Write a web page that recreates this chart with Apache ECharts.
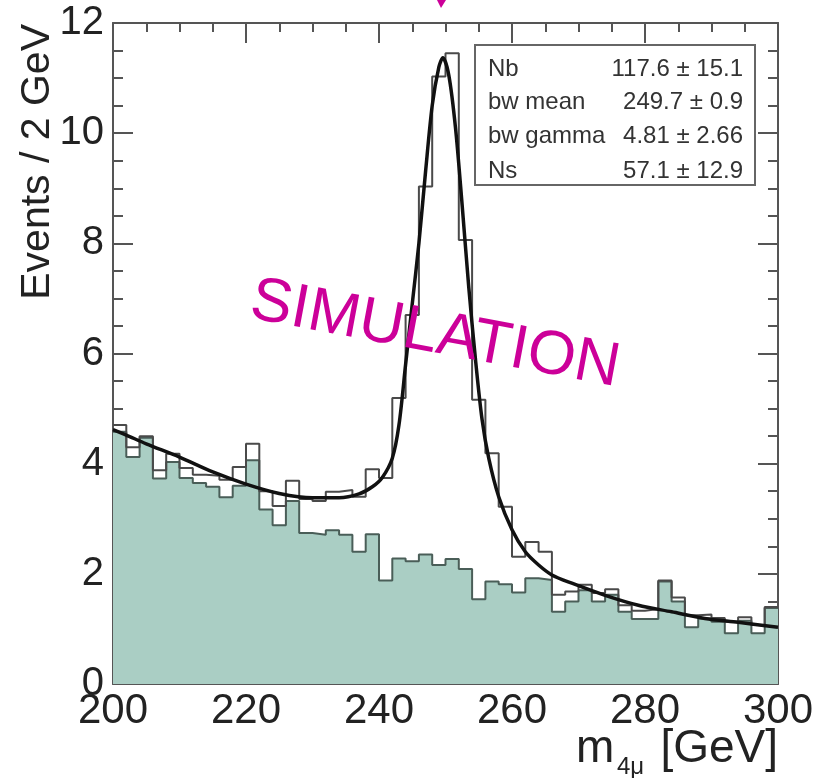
<!DOCTYPE html>
<html>
<head>
<meta charset="utf-8">
<script src="https://cdn.jsdelivr.net/npm/echarts@6/dist/echarts.min.js"></script>
<style>
html,body{margin:0;padding:0;background:#fff;}
#chart{width:819px;height:778px;}
</style>
</head>
<body>
<div id="chart"></div>
<script>
// bin lower edges (GeV), 2 GeV bins
var binLow = [200,202,204,206,208,210,212,214,216,218,220,222,224,226,228,230,232,234,236,238,
              240,242,244,246,248,250,252,254,256,258,260,262,264,266,268,270,272,274,276,278,
              280,282,284,286,288,290,292,294,296,298];
var binHigh = 300;
// total (signal + background) histogram
var totalCounts = [4.70,4.30,4.50,3.88,4.18,3.92,3.80,3.78,3.71,3.94,4.36,3.50,3.23,3.69,3.36,3.32,3.49,3.52,3.40,3.90,
                   3.74,5.19,6.70,9.03,11.03,11.45,8.06,5.16,4.19,3.22,2.31,2.58,2.40,1.62,1.68,1.80,1.65,1.72,1.43,1.33,
                   1.36,1.88,1.57,1.25,1.26,1.20,1.13,1.21,1.07,1.40];
// background histogram (filled)
var bgCounts = [4.58,4.12,4.47,3.73,4.03,3.74,3.65,3.58,3.39,3.60,4.06,3.17,2.88,3.32,2.74,2.71,2.79,2.71,2.40,2.72,
                1.88,2.28,2.23,2.35,2.16,2.27,2.09,1.54,1.86,1.81,1.66,1.92,1.89,1.31,1.50,1.70,1.50,1.62,1.31,1.18,
                1.18,1.86,1.50,1.03,1.19,1.13,0.92,1.15,0.92,1.38];
// fit curve, points
var fitX = [200,202,205,210,215,220,225,230,234,237,239,240.5,242,243,244,245,246,247,248,249,249.6,
            250.5,251.5,252.5,253.5,254.5,255.5,256.5,258,260,262,264,266,269,274,279,284,289,294,300];
var fitY = [4.62,4.52,4.36,4.12,3.85,3.63,3.46,3.38,3.38,3.45,3.58,3.75,4.10,4.70,5.80,6.90,8.00,9.30,10.50,11.20,11.37,
            11.05,10.10,8.70,7.20,5.90,4.80,4.10,3.40,2.80,2.40,2.16,1.98,1.83,1.61,1.43,1.31,1.19,1.12,1.03];
var xTicks = {min:200, max:300, interval:20};
var yTicks = {min:0, max:12, interval:2};
var statNames = ['Nb','bw mean','bw gamma','Ns'];
var statValues = ['117.6 \u00b1 15.1','249.7 \u00b1 0.9','4.81 \u00b1 2.66','57.1 \u00b1 12.9'];

function stepData(vals){
  var d = [];
  for (var i=0;i<binLow.length;i++) d.push([binLow[i], vals[i]]);
  d.push([binHigh, vals[vals.length-1]]);
  return d;
}
var fitData = fitX.map(function(x,i){return [x, fitY[i]];});

var axisCol = '#555';
var font = '"Liberation Sans", Arial, Helvetica, sans-serif';
function xAx(pos, showLabel){
  return {
    type:'value', position:pos, min:xTicks.min, max:xTicks.max, interval:xTicks.interval,
    axisLine:{show:true, onZero:false, lineStyle:{color:axisCol, width:2}},
    axisTick:{show:true, inside:true, length:20, lineStyle:{color:axisCol, width:2}},
    minorTick:{show:true, splitNumber:4, length:9, lineStyle:{color:axisCol, width:2}},
    splitLine:{show:false}, minorSplitLine:{show:false},
    axisLabel:{show:showLabel, fontSize:42, color:'#222', fontFamily:font, margin:6}
  };
}
function yAx(pos, showLabel){
  return {
    type:'value', position:pos, min:yTicks.min, max:yTicks.max, interval:yTicks.interval,
    axisLine:{show:true, onZero:false, lineStyle:{color:axisCol, width:2}},
    axisTick:{show:true, inside:true, length:20, lineStyle:{color:axisCol, width:2}},
    minorTick:{show:true, splitNumber:4, length:10, lineStyle:{color:axisCol, width:2}},
    splitLine:{show:false}, minorSplitLine:{show:false},
    axisLabel:{show:showLabel, fontSize:40, color:'#222', fontFamily:font, margin:9}
  };
}

var graphics = [
  {type:'polygon', shape:{points:[[437,0],[446,0],[441,8]]}, style:{fill:'#cc0099'}, z:10},
  {type:'text', x:38, y:24, rotation:Math.PI/2,
   style:{text:'Events / 2 GeV', fontSize:41, fontFamily:font, fill:'#222', align:'right', verticalAlign:'middle'}, z:10},
  {type:'text', x:576, y:749, style:{text:'m', fontSize:46, fontFamily:font, fill:'#222', align:'left', verticalAlign:'middle'}, z:10},
  {type:'text', x:617, y:767, style:{text:'4\u03bc', fontSize:24, fontFamily:font, fill:'#222', align:'left', verticalAlign:'middle'}, z:10},
  {type:'text', x:778, y:749, style:{text:'[GeV]', fontSize:46, fontFamily:font, fill:'#222', align:'right', verticalAlign:'middle'}, z:10},
  {type:'rect', shape:{x:475, y:45, width:280, height:140}, style:{fill:'#fff', stroke:'#666', lineWidth:2}, z:20},
  {type:'text', x:435, y:335, rotation:-0.185,
   style:{text:'SIMULATION', fontSize:62, fontFamily:font, fill:'#cc0099', align:'center', verticalAlign:'middle'}, z:30}
];
var statY = [69, 102, 136, 171];
statNames.forEach(function(n,i){
  graphics.push({type:'text', x:488, y:statY[i], style:{text:n, fontSize:24, fontFamily:font, fill:'#333', align:'left', verticalAlign:'middle'}, z:21});
  graphics.push({type:'text', x:743, y:statY[i], style:{text:statValues[i], fontSize:24, fontFamily:font, fill:'#333', align:'right', verticalAlign:'middle'}, z:21});
});

var chart = echarts.init(document.getElementById('chart'), null, {renderer:'canvas'});
chart.setOption({
  animation:false,
  backgroundColor:'#fff',
  grid:{left:113, right:41, top:23, bottom:94, containLabel:false},
  xAxis:[xAx('bottom', true), xAx('top', false)],
  yAxis:[yAx('left', true), yAx('right', false)],
  series:[
    {type:'line', xAxisIndex:0, yAxisIndex:0, step:'end', data:stepData(bgCounts), symbol:'none',
     lineStyle:{color:'#4a5e58', width:2}, areaStyle:{color:'#aacec4', opacity:1}, z:2},
    {type:'line', xAxisIndex:0, yAxisIndex:0, step:'end', data:stepData(totalCounts), symbol:'none',
     lineStyle:{color:'#4a4a4a', width:2}, z:3},
    {type:'line', xAxisIndex:0, yAxisIndex:0, data:fitData, smooth:0.3, symbol:'none',
     lineStyle:{color:'#111', width:3.5}, z:4}
  ],
  graphic:graphics
});
</script>
</body>
</html>
